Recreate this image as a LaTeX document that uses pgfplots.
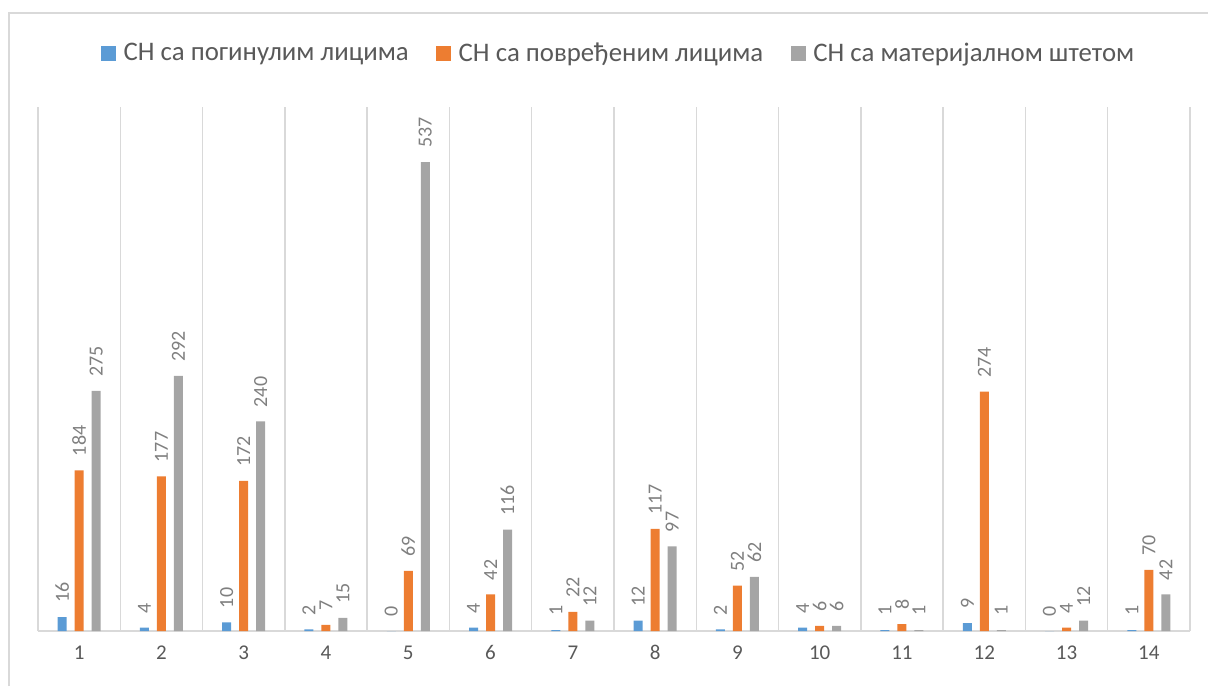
\documentclass[border=0pt]{standalone}
\usepackage{pgfplots}
\pgfplotsset{compat=1.18}
\usepackage{fontspec}
\setmainfont{Carlito}
\definecolor{sblue}{HTML}{5B9BD5}
\definecolor{sorange}{HTML}{ED7D31}
\definecolor{sgray}{HTML}{A5A5A5}
\definecolor{txt}{HTML}{595959}
\definecolor{lbl}{HTML}{7F7F7F}
\definecolor{grd}{HTML}{D9D9D9}
\pgfplotsset{sqlegend/.style={legend image code/.code={\fill[##1,draw=none] (0pt,-7.5pt) rectangle (15pt,7.5pt);}}}
\begin{document}
\begin{tikzpicture}[x=1pt,y=1pt]
\useasboundingbox (0,0) rectangle (1208,-686);
\draw[grd, line width=1.3pt] (9,-686) -- (9,-13) -- (1208,-13);
\begin{axis}[
  at={(38pt,-631pt)}, anchor=south west,
  scale only axis, width=1152pt, height=524pt,
  ybar=8pt, bar width=9pt,
  xmin=0.5, xmax=14.5, ymin=0, ymax=600,
  axis y line=none, axis x line*=bottom,
  x axis line style={grd, line width=1.5pt, -},
  xtick={1,...,14}, major tick length=0pt,
  minor xtick={0.5,1.5,...,14.5}, minor tick length=0pt,
  xminorgrids, minor grid style={grd, line width=1.3pt},
  ticklabel style={font=\fontsize{21}{25}\selectfont, text=txt},
  xticklabel style={yshift=-11pt},
  /pgf/number format/assume math mode=true,
  nodes near coords,
  nodes near coords style={rotate=90, anchor=west, font=\fontsize{20}{24}\selectfont, text=lbl, inner xsep=14pt, inner ysep=0pt},
  legend columns=3,
  legend style={at={(0.5047,1.103)}, anchor=center, draw=none, fill=none,
    font=\fontsize{26.8}{30}\selectfont, text=txt,
    nodes={inner xsep=3.5pt, inner ysep=2pt},
    /tikz/every odd column/.append style={column sep=4pt},
    /tikz/every even column/.append style={column sep=24pt}},
  every axis plot post/.append style={sqlegend},
]
\addplot[fill=sblue, draw=none, sqlegend] coordinates {(1,16) (2,4) (3,10) (4,2) (5,0) (6,4) (7,1) (8,12) (9,2) (10,4) (11,1) (12,9) (13,0) (14,1)};
\addplot[fill=sorange, draw=none, sqlegend] coordinates {(1,184) (2,177) (3,172) (4,7) (5,69) (6,42) (7,22) (8,117) (9,52) (10,6) (11,8) (12,274) (13,4) (14,70)};
\addplot[fill=sgray, draw=none, sqlegend] coordinates {(1,275) (2,292) (3,240) (4,15) (5,537) (6,116) (7,12) (8,97) (9,62) (10,6) (11,1) (12,1) (13,12) (14,42)};
\legend{СН са погинулим лицима, СН са повређеним лицима, СН са материјалном штетом}
\end{axis}
\end{tikzpicture}
\end{document}
